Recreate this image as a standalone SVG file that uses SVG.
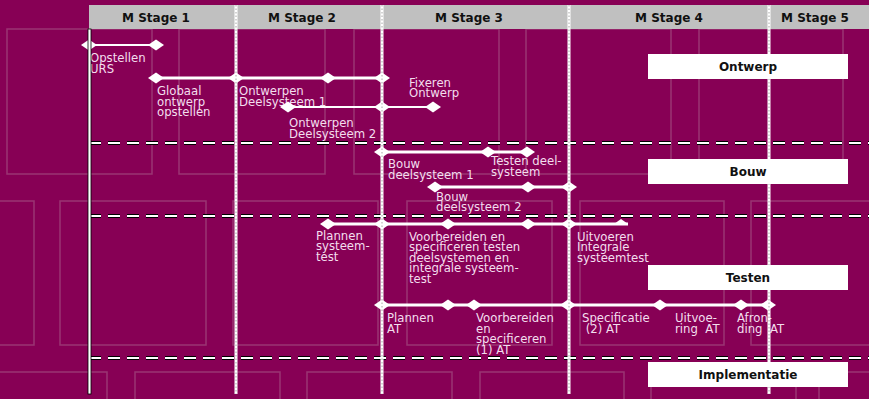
<svg xmlns="http://www.w3.org/2000/svg" xmlns:xlink="http://www.w3.org/1999/xlink" width="869" height="399" viewBox="0 0 869 399">
<style>
.bgr{fill:none;stroke:#9a3573;stroke-width:1.5}
.hdr{font-family:"DejaVu Sans",Verdana,sans-serif;font-size:12px;font-weight:bold;fill:#111;text-anchor:middle}
.lbl{font-family:"DejaVu Sans",Verdana,sans-serif;font-size:11.7px;fill:#f3deee}
.bar{stroke:#fff;stroke-width:3;fill:none}
.thin{stroke-width:2}
.dashb{stroke:#000;stroke-width:4;stroke-dasharray:12 7;fill:none}
.dashw{stroke:#fff;stroke-width:2;stroke-dasharray:12 7;fill:none}
.sepw{stroke:#fff;stroke-width:3}
.sepg{stroke:#a8a8a8;stroke-width:1;stroke-dasharray:1.5 2}
.box{fill:#fff}
</style>
<defs>
<path id="dm" d="M-8,0 L0,-5.5 L8,0 L0,5.5Z" fill="#fff"/>
</defs>
<rect x="0" y="0" width="869" height="399" fill="#870055"/>
<g id="background">
<rect class="bgr" x="7" y="29" width="145" height="145"/>
<rect class="bgr" x="179" y="29" width="146" height="145"/>
<rect class="bgr" x="354" y="29" width="145" height="145"/>
<rect class="bgr" x="526" y="29" width="145" height="145"/>
<rect class="bgr" x="699" y="29" width="144" height="145"/>
<rect class="bgr" x="-113" y="201" width="147" height="144"/>
<rect class="bgr" x="60" y="201" width="146" height="144"/>
<rect class="bgr" x="233" y="201" width="145" height="144"/>
<rect class="bgr" x="407" y="201" width="145" height="144"/>
<rect class="bgr" x="580" y="201" width="144" height="144"/>
<rect class="bgr" x="751" y="201" width="145" height="144"/>
<rect class="bgr" x="-38" y="372" width="145" height="145"/>
<rect class="bgr" x="135" y="372" width="145" height="145"/>
<rect class="bgr" x="307" y="372" width="145" height="145"/>
<rect class="bgr" x="480" y="372" width="144" height="145"/>
<rect class="bgr" x="651" y="372" width="145" height="145"/>
<rect class="bgr" x="819" y="372" width="145" height="145"/>
</g>
<g id="header">
<rect x="89" y="5" width="780" height="24" fill="#c0c0c0"/>
<text class="hdr" x="156" y="22">M Stage 1</text>
<text class="hdr" x="302" y="22">M Stage 2</text>
<text class="hdr" x="469" y="22">M Stage 3</text>
<text class="hdr" x="669" y="22">M Stage 4</text>
<text class="hdr" x="815" y="22">M Stage 5</text>
</g>
<g id="lanes">
<line class="dashb" x1="89" y1="143" x2="869" y2="143"/>
<line class="dashw" x1="89" y1="143" x2="869" y2="143"/>
<line class="dashb" x1="89" y1="216" x2="869" y2="216"/>
<line class="dashw" x1="89" y1="216" x2="869" y2="216"/>
<line class="dashb" x1="89" y1="358" x2="869" y2="358"/>
<line class="dashw" x1="89" y1="358" x2="869" y2="358"/>
</g>
<g id="connectors">
<line class="bar thin" x1="89" y1="45" x2="156" y2="45"/>
<line class="bar" x1="156" y1="78" x2="382" y2="78"/>
<line class="bar thin" x1="288" y1="107" x2="433" y2="107"/>
<line class="bar" x1="382" y1="152" x2="527" y2="152"/>
<line class="bar" x1="435" y1="187" x2="569" y2="187"/>
<line class="bar" x1="328" y1="224" x2="628" y2="224"/>
<line class="bar" x1="382" y1="305" x2="768" y2="305"/>
</g>
<g id="n-opstellen-urs">
<use xlink:href="#dm" x="89" y="45"/><use xlink:href="#dm" x="156" y="45"/>
<text class="lbl" x="90" y="62">Opstellen</text><text class="lbl" x="90" y="72.5">URS</text>
</g>
<g id="n-globaal">
<use xlink:href="#dm" x="156" y="78"/><use xlink:href="#dm" x="236" y="78"/>
<text class="lbl" x="157" y="95">Globaal</text><text class="lbl" x="157" y="105.5">ontwerp</text><text class="lbl" x="157" y="116">opstellen</text>
</g>
<g id="n-ontwerpen1">
<use xlink:href="#dm" x="328" y="78"/>
<text class="lbl" x="239" y="95">Ontwerpen</text><text class="lbl" x="239" y="105.5">Deelsysteem 1</text>
</g>
<g id="n-fixeren">
<use xlink:href="#dm" x="382" y="78"/>
<text class="lbl" x="409" y="87">Fixeren</text><text class="lbl" x="409" y="97">Ontwerp</text>
</g>
<g id="n-ontwerpen2">
<use xlink:href="#dm" x="288" y="107"/><use xlink:href="#dm" x="382" y="107"/><use xlink:href="#dm" x="433" y="107"/>
<text class="lbl" x="289" y="127">Ontwerpen</text><text class="lbl" x="289" y="137.5">Deelsysteem 2</text>
</g>
<g id="n-bouw1">
<use xlink:href="#dm" x="382" y="152"/><use xlink:href="#dm" x="488" y="152"/>
<text class="lbl" x="388" y="168">Bouw</text><text class="lbl" x="388" y="178.5">deelsysteem 1</text>
</g>
<g id="n-testen-deel">
<use xlink:href="#dm" x="527" y="152"/>
<text class="lbl" x="491" y="165">Testen deel-</text><text class="lbl" x="491" y="175.5">systeem</text>
</g>
<g id="n-bouw2">
<use xlink:href="#dm" x="435" y="187"/><use xlink:href="#dm" x="528" y="187"/><use xlink:href="#dm" x="569" y="187"/>
<text class="lbl" x="436" y="200.5">Bouw</text><text class="lbl" x="436" y="211">deelsysteem 2</text>
</g>
<g id="n-plannen-systeemtest">
<use xlink:href="#dm" x="328" y="224"/><use xlink:href="#dm" x="382" y="224"/>
<text class="lbl" x="316" y="239.5">Plannen</text><text class="lbl" x="316" y="250">systeem-</text><text class="lbl" x="316" y="260.5">test</text>
</g>
<g id="n-voorbereiden-testen">
<use xlink:href="#dm" x="448" y="224"/><use xlink:href="#dm" x="528" y="224"/><use xlink:href="#dm" x="569" y="224"/>
<text class="lbl" x="409" y="240.5">Voorbereiden en</text><text class="lbl" x="409" y="251">specificeren testen</text><text class="lbl" x="409" y="261.5">deelsystemen en</text><text class="lbl" x="409" y="272">integrale systeem-</text><text class="lbl" x="409" y="282.5">test</text>
</g>
<g id="n-uitvoeren-integrale">
<path d="M614,224 L621,219 L628,224Z" fill="#fff"/>
<text class="lbl" x="577" y="240.5">Uitvoeren</text><text class="lbl" x="577" y="251">Integrale</text><text class="lbl" x="577" y="261.5">systeemtest</text>
</g>
<g id="n-plannen-at">
<use xlink:href="#dm" x="382" y="305"/><use xlink:href="#dm" x="448" y="305"/>
<text class="lbl" x="387" y="322">Plannen</text><text class="lbl" x="387" y="332.5">AT</text>
</g>
<g id="n-voorbereiden-at">
<use xlink:href="#dm" x="474" y="305"/>
<text class="lbl" x="476" y="322">Voorbereiden</text><text class="lbl" x="476" y="332.5">en</text><text class="lbl" x="476" y="343">specificeren</text><text class="lbl" x="476" y="353.5">(1) AT</text>
</g>
<g id="n-specificatie-at">
<use xlink:href="#dm" x="568" y="305"/><use xlink:href="#dm" x="660" y="305"/>
<text class="lbl" x="582" y="322">Specificatie</text><text class="lbl" x="582" y="332.5" xml:space="preserve"> (2) AT</text>
</g>
<g id="n-uitvoering-at">
<use xlink:href="#dm" x="741" y="305"/>
<text class="lbl" x="675" y="322">Uitvoe-</text><text class="lbl" x="675" y="332.5" xml:space="preserve">ring  AT</text>
</g>
<g id="n-afronding-at">
<use xlink:href="#dm" x="768" y="305"/>
<text class="lbl" x="737" y="322">Afron-</text><text class="lbl" x="737" y="332.5" xml:space="preserve">ding  AT</text>
</g>
<g id="separators">
<line class="sepw" x1="236" y1="5" x2="236" y2="394"/><line class="sepg" x1="236" y1="5" x2="236" y2="394"/>
<line class="sepw" x1="382" y1="5" x2="382" y2="394"/><line class="sepg" x1="382" y1="5" x2="382" y2="394"/>
<line class="sepw" x1="569" y1="5" x2="569" y2="394"/><line class="sepg" x1="569" y1="5" x2="569" y2="394"/>
<line class="sepw" x1="769" y1="5" x2="769" y2="394"/><line class="sepg" x1="769" y1="5" x2="769" y2="394"/>
<rect x="88" y="29" width="3" height="365" fill="#fff" stroke="#000" stroke-width="0.8"/>
</g>
<g id="lane-ontwerp"><rect class="box" x="648" y="54" width="200" height="25"/><text class="hdr" x="748" y="71">Ontwerp</text></g>
<g id="lane-bouw"><rect class="box" x="648" y="159" width="200" height="25"/><text class="hdr" x="748" y="176">Bouw</text></g>
<g id="lane-testen"><rect class="box" x="648" y="265" width="200" height="25"/><text class="hdr" x="748" y="282">Testen</text></g>
<g id="lane-implementatie"><rect class="box" x="648" y="362" width="200" height="25"/><text class="hdr" x="748" y="379">Implementatie</text></g>
</svg>
